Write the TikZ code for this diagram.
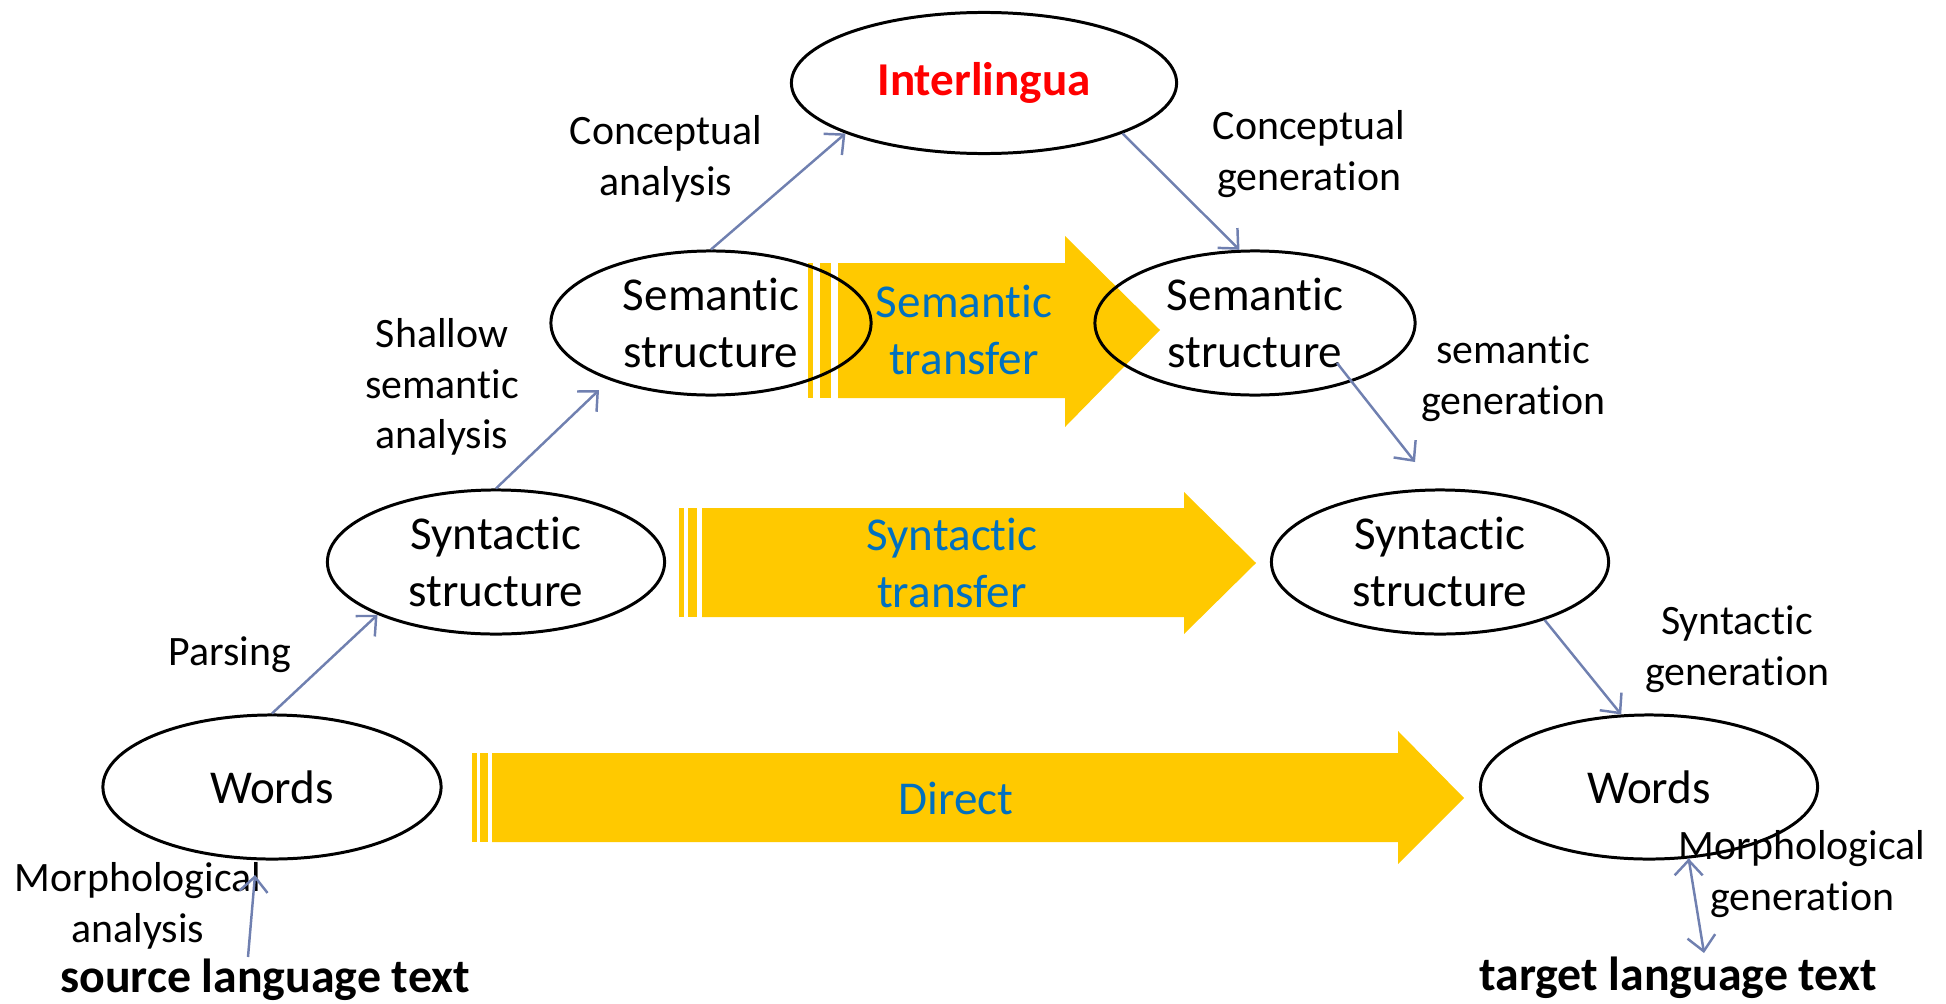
\documentclass[tikz,border=0pt]{standalone}
\usepackage{fontspec}
\setmainfont{Carlito}[RawFeature={-liga;-clig;-calt;-dlig}]
\usepackage{xcolor}
\usetikzlibrary{arrows.meta,shapes.geometric,positioning}
\definecolor{gold}{RGB}{255,201,0}
\definecolor{linkblue}{RGB}{112,128,176}
\definecolor{textblue}{RGB}{0,112,192}

\begin{document}
\begin{tikzpicture}[x=0.01cm,y=-0.01cm,
                    main node/.style={ellipse,draw,line width=0.85pt,inner sep=0pt,
                      minimum height=1.44cm,align=center,font=\fontsize{13.4}{16.2}\selectfont},
                    side node/.style={align=center,inner sep=0pt,font=\fontsize{11.9}{14.4}\selectfont},
                    band/.style={fill=gold},
                    band text/.style={align=center,text=textblue,font=\fontsize{13.4}{16.2}\selectfont},
                    link/.style={draw=linkblue,line width=0.7pt,-{Straight Barb[length=1.5mm,width=2.8mm]}}]
  \useasboundingbox (0,0) rectangle (1946,1003);

  % yellow transfer arrows
  \fill[band] (808,263) rectangle (813,398);
  \fill[band] (820,263) rectangle (831,398);
  \fill[band] (838,263) -- (1065,263) -- (1065,236) -- (1160,330) -- (1065,427) -- (1065,398) -- (838,398) -- cycle;

  \fill[band] (679,508) rectangle (684,617);
  \fill[band] (688,508) rectangle (697,617);
  \fill[band] (702,508) -- (1184,508) -- (1184,492) -- (1256,563) -- (1184,634) -- (1184,617) -- (702,617) -- cycle;

  \fill[band] (472,753) rectangle (477,842);
  \fill[band] (480,753) rectangle (488,842);
  \fill[band] (492,753) -- (1398,753) -- (1398,731) -- (1464,798) -- (1398,864) -- (1398,842) -- (492,842) -- cycle;

  \node[band text] (semtr) at (964,330) {Semantic\\transfer};
  \node[band text] (syntr) at (952,563) {Syntactic\\transfer};
  \node[band text] (direct) at (956,798) {Direct};

  % structures
  \node[main node,minimum width=3.85cm,minimum height=1.41cm,text=red,font=\fontsize{13.4}{16.2}\selectfont\bfseries] (inter) at (984,83) {Interlingua};
  \node[main node,minimum width=3.2cm] (sem1) at (711,323) {Semantic\\structure};
  \node[main node,minimum width=3.2cm] (sem2) at (1255,323) {Semantic\\structure};
  \node[main node,minimum width=3.37cm] (syn1) at (496,562) {Syntactic\\structure};
  \node[main node,minimum width=3.37cm] (syn2) at (1440,562) {Syntactic\\structure};
  \node[main node,minimum width=3.38cm] (words1) at (272,787) {Words};
  \node[main node,minimum width=3.37cm] (words2) at (1649,787) {Words};

  \node[font=\fontsize{13.6}{16}\selectfont\bfseries,inner sep=0pt] (src) at (265,980) {source language text};
  \node[font=\fontsize{13.6}{16}\selectfont\bfseries,inner sep=0pt] (tgt) at (1678,978) {target language text};

  % step labels
  \node[side node] (ca) at (666,159) {Conceptual\\analysis};
  \node[side node] (cg) at (1309,154) {Conceptual\\generation};
  \node[side node] (ssa) at (442,387) {Shallow\\semantic\\analysis};
  \node[side node] (sg) at (1513,378) {semantic\\generation};
  \node[side node] (pars) at (230,655) {Parsing};
  \node[side node] (syg) at (1737,649) {Syntactic\\generation};
  \node[side node] (ma) at (138,906) {Morphological\\analysis};
  \node[side node] (mg) at (1802,874) {Morphological\\generation};

  \coordinate (ssa end) at (599,390);
  \coordinate (sg start) at (1337,363);
  \coordinate (sg end) at (1415,462);
  \coordinate (ma start) at (248,957);
  \coordinate (ma end) at (255,875);
  \coordinate (mg end) at (1704,953);

  \path[link]
    (words1.north) edge (syn1.204)
    (syn1.north) edge (ssa end)
    (sem1.north) edge (inter.200)
    (inter.-20) edge (sem2.102)
    (sg start) edge (sg end)
    (syn2.-29) edge (words2.111)
    (ma start) edge (ma end)
    (words2.-61) edge (mg end);

\end{tikzpicture}
\end{document}
